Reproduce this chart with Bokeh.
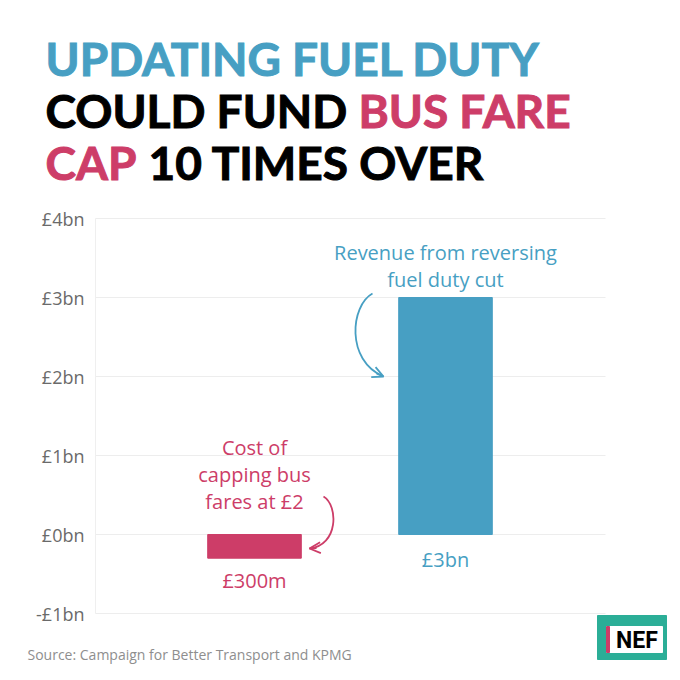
from bokeh.plotting import figure
from bokeh.models import Range1d, Label, Arrow, OpenHead, FixedTicker, Grid
from bokeh.embed import file_html
from bokeh.resources import INLINE

# ---------------- data ----------------
categories = ["Cost of capping bus fares at £2", "Revenue from reversing fuel duty cut"]
category_lines = [["Cost of", "capping bus", "fares at £2"], ["Revenue from reversing", "fuel duty cut"]]
bar_x = [1, 2]
values_bn = [-0.3, 3.0]
value_labels = ["£300m", "£3bn"]
ytick_values = [-1, 0, 1, 2, 3, 4]
ytick_labels = ["-£1bn", "£0bn", "£1bn", "£2bn", "£3bn", "£4bn"]

title_lines = [
    [("UPDATING FUEL DUTY", "blue")],
    [("COULD FUND", "black"), ("BUS FARE", "pink")],
    [("CAP", "pink"), ("10 TIMES OVER", "black")],
]
source_text = "Source: Campaign for Better Transport and KPMG"
logo_text = "NEF"

# ---------------- style ----------------
BLUE = "#479FC3"
PINK = "#CD3D68"
BLACK = "#000000"
TEAL = "#2BAE97"
COLORS = {"blue": BLUE, "pink": PINK, "black": BLACK}
bar_colors = [PINK, BLUE]

W, H = 672, 672
# plot-area geometry (in reference-image pixels) and its data extent
X0, X1 = 0.1675, 2.8377
Y0, Y1 = -1, 4
FL, FT, FW, FH = 95, 218, 510, 395


def fx(px):
    return X0 + (px - FL) / FW * (X1 - X0)


def fy(py):
    return Y0 + (FT + FH - py) / FH * (Y1 - Y0)


p = figure(width=W, height=H, output_backend="svg", toolbar_location=None,
           x_range=Range1d(fx(0), fx(W)), y_range=Range1d(fy(H), fy(0)),
           min_border=0)
p.outline_line_color = None
p.background_fill_color = "white"
p.border_fill_color = "white"

p.xaxis.visible = False
p.xgrid.visible = False
p.yaxis.fixed_location = X0
p.yaxis.bounds = (Y0, Y1)
p.yaxis.ticker = FixedTicker(ticks=ytick_values)
p.yaxis.major_label_overrides = {v: l for v, l in zip(ytick_values, ytick_labels)}
p.yaxis.axis_line_color = "#EFEFEF"
p.yaxis.major_tick_line_color = None
p.yaxis.minor_tick_line_color = None
p.yaxis.major_label_standoff = 5
p.yaxis.major_label_text_font = "Open Sans"
p.yaxis.major_label_text_font_size = "18px"
p.yaxis.major_label_text_color = "#6A6A6A"

if "cross_bounds" in Grid.properties():
    p.ygrid.cross_bounds = (X0, X1)
    p.ygrid.bounds = (Y0, Y1)
    p.ygrid.ticker = FixedTicker(ticks=ytick_values)
    p.ygrid.grid_line_color = "#EDEDED"
else:
    p.ygrid.visible = False
    p.segment(x0=[X0] * len(ytick_values), x1=[X1] * len(ytick_values),
              y0=ytick_values, y1=ytick_values, line_color="#EDEDED", line_width=1)

# bars
p.vbar(x=bar_x, top=values_bn, bottom=0, width=0.49, color=bar_colors)

# value labels under bars
label_offsets = [-46, -25]
for x, v, lab, c, off in zip(bar_x, values_bn, value_labels, bar_colors, label_offsets):
    p.add_layout(Label(x=x, y=0, y_offset=off, text=lab, text_align="center",
                       text_baseline="middle", text_color=c,
                       text_font="Open Sans", text_font_size="20px"))

# category annotations above
for x, v, lines, c in zip(bar_x, values_bn, category_lines, bar_colors):
    top = max(v, 0)
    n = len(lines)
    gap = 18 if v > 0 else 33
    for i, line in enumerate(lines):
        off = gap + (n - 1 - i) * 27
        p.add_layout(Label(x=x, y=top, y_offset=off, text=line, text_align="center",
                           text_baseline="middle", text_color=c,
                           text_font="Open Sans", text_font_size="20px"))

# curved arrows
bx = [fx(372), fx(350), fx(345), fx(383)]
by = [fy(293), fy(305), fy(360), fy(376)]
p.bezier(x0=[bx[0]], y0=[by[0]], cx0=[bx[1]], cy0=[by[1]], cx1=[bx[2]], cy1=[by[2]],
         x1=[bx[3]], y1=[by[3]], line_color=BLUE, line_width=1.8)
p.add_layout(Arrow(end=OpenHead(size=11, line_color=BLUE, line_width=1.8),
                   x_start=fx(376), y_start=fy(373), x_end=bx[3], y_end=by[3],
                   line_color=BLUE, line_width=1.8))

qx = [fx(323), fx(338), fx(338), fx(309)]
qy = [fy(496), fy(505), fy(545), fy(548)]
p.bezier(x0=[qx[0]], y0=[qy[0]], cx0=[qx[1]], cy0=[qy[1]], cx1=[qx[2]], cy1=[qy[2]],
         x1=[qx[3]], y1=[qy[3]], line_color=PINK, line_width=1.8)
p.add_layout(Arrow(end=OpenHead(size=11, line_color=PINK, line_width=1.8),
                   x_start=fx(316), y_start=fy(547.5), x_end=qx[3], y_end=qy[3],
                   line_color=PINK, line_width=1.8))

# title
title_x = [[45], [45, 358], [45, 148]]
title_mid = [58, 110, 162]
has_outline = "text_outline_color" in Label.properties()
for segs, xs, mid in zip(title_lines, title_x, title_mid):
    for (txt, col), px in zip(segs, xs):
        kw = dict(x=fx(px), y=fy(mid), text=txt, text_align="left",
                  text_baseline="middle", text_color=COLORS[col],
                  text_font="Lato", text_font_style="bold",
                  text_font_size="46px")
        if has_outline:
            kw["text_outline_color"] = COLORS[col]
        p.add_layout(Label(**kw))

# source
p.add_layout(Label(x=fx(27), y=fy(654), text=source_text, text_align="left",
                   text_baseline="middle", text_color="#8E8E8E",
                   text_font="Open Sans", text_font_size="14px"))

# NEF logo
p.quad(left=[fx(597)], right=[fx(666)], top=[fy(615)], bottom=[fy(659)], color=TEAL)
p.quad(left=[fx(606)], right=[fx(662)], top=[fy(626)], bottom=[fy(652)], color="white")
p.quad(left=[fx(606)], right=[fx(609)], top=[fy(626)], bottom=[fy(652)], color=PINK)
p.add_layout(Label(x=fx(636.5), y=fy(640), text=logo_text, text_align="center",
                   text_baseline="middle", text_color="black",
                   text_font="Roboto", text_font_style="bold",
                   text_font_size="23px"))

open("out.html", "w").write(file_html(p, INLINE))
